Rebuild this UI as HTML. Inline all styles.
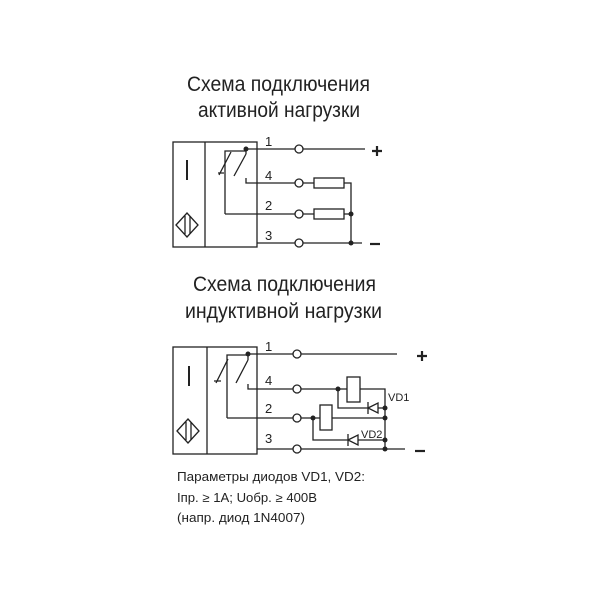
<!DOCTYPE html>
<html><head><meta charset="utf-8"><style>html,body{margin:0;padding:0;background:#fff}svg{display:block}</style></head><body>
<svg width="600" height="600" viewBox="0 0 600 600" xmlns="http://www.w3.org/2000/svg" font-family="Liberation Sans, sans-serif" fill="none" stroke="#222" stroke-width="1.3">
<g fill="#222" stroke="none" font-size="21">
<text x="187" y="91" textLength="183" lengthAdjust="spacingAndGlyphs">Схема подключения</text>
<text x="198" y="117" textLength="162" lengthAdjust="spacingAndGlyphs">активной нагрузки</text>
<text x="193" y="291" textLength="183" lengthAdjust="spacingAndGlyphs">Схема подключения</text>
<text x="185" y="318" textLength="197" lengthAdjust="spacingAndGlyphs">индуктивной нагрузки</text>
<g font-size="12.5">
<text x="177" y="481" textLength="188" lengthAdjust="spacingAndGlyphs">Параметры диодов VD1, VD2:</text>
<text x="177" y="502" textLength="140" lengthAdjust="spacingAndGlyphs">Iпр. ≥ 1А; Uобр. ≥ 400В</text>
<text x="177" y="522" textLength="128" lengthAdjust="spacingAndGlyphs">(напр. диод 1N4007)</text>
</g>
<g font-size="13">
<text x="265" y="146">1</text><text x="265" y="180">4</text><text x="265" y="210">2</text><text x="265" y="240">3</text>
<text x="265" y="351">1</text><text x="265" y="385">4</text><text x="265" y="413">2</text><text x="265" y="443">3</text>
<text x="388" y="401" font-size="11">VD1</text><text x="361" y="438" font-size="11">VD2</text>
</g>
</g>
<g stroke-width="2.2">
<path d="M372 151 H382 M377 146 V156"/><path d="M370 244 H380"/>
<path d="M417 356 H427 M422 351 V361"/><path d="M415 451 H425"/>
</g>

<!-- Diagram 1 -->
<rect x="173" y="142" width="84" height="105"/><line x1="205" y1="142" x2="205" y2="247"/>
<line x1="187" y1="160" x2="187" y2="180" stroke-width="2"/>
<path d="M176 225 L187 213 L198 225 L187 237 Z"/><path d="M185 216 V234 M190 216 V234"/>
<path d="M225 214 V151 H246 M246 149 H295"/>
<path d="M218 173 H224 M219 175 L231 152"/>
<path d="M234 176 L246 154 M246 151 V154"/>
<path d="M246 178 V183 H295"/>
<path d="M225 214 H295 M257 243 H295"/>
<circle cx="299" cy="149" r="4" fill="#fff"/><circle cx="299" cy="183" r="4" fill="#fff"/><circle cx="299" cy="214" r="4" fill="#fff"/><circle cx="299" cy="243" r="4" fill="#fff"/>
<path d="M303 149 H365 M303 183 H314 M344 183 H351 V243 M303 214 H314 M344 214 H351 M303 243 H362"/>
<rect x="314" y="178" width="30" height="10"/><rect x="314" y="209" width="30" height="10"/>
<g fill="#222" stroke="none"><circle cx="246" cy="149" r="2.5"/><circle cx="351" cy="214" r="2.5"/><circle cx="351" cy="243" r="2.5"/></g>

<!-- Diagram 2 -->
<rect x="173" y="347" width="84" height="107"/><line x1="207" y1="347" x2="207" y2="454"/>
<line x1="189" y1="366" x2="189" y2="386" stroke-width="2"/>
<path d="M177 431 L188 419 L199 431 L188 443 Z"/><path d="M186 422 V440 M191 422 V440"/>
<path d="M227 418 V355 H248 M248 354 H293"/>
<path d="M214 381 H221 M216 383 L228 359"/>
<path d="M236 383 L248 360 M248 355 V360"/>
<path d="M248 384 V389 H293"/>
<path d="M227 418 H293 M257 449 H293"/>
<circle cx="297" cy="354" r="4" fill="#fff"/><circle cx="297" cy="389" r="4" fill="#fff"/><circle cx="297" cy="418" r="4" fill="#fff"/><circle cx="297" cy="449" r="4" fill="#fff"/>
<path d="M301 354 H397 M301 389 H347 M360 389 H385 V449 M301 418 H320 M332 418 H385 M301 449 H405"/>
<path d="M338 389 V408 H385 M313 418 V440 H385"/>
<rect x="347" y="377" width="13" height="25" fill="#fff"/><rect x="320" y="405" width="12" height="25" fill="#fff"/>
<path d="M368 408 L378 403 V413 Z M368 402 V414" fill="#fff"/>
<path d="M348 440 L358 435 V445 Z M348 434 V446" fill="#fff"/>
<g fill="#222" stroke="none"><circle cx="248" cy="354" r="2.5"/><circle cx="338" cy="389" r="2.5"/><circle cx="313" cy="418" r="2.5"/><circle cx="385" cy="408" r="2.5"/><circle cx="385" cy="418" r="2.5"/><circle cx="385" cy="440" r="2.5"/><circle cx="385" cy="449" r="2.5"/></g>
</svg>
</body></html>
